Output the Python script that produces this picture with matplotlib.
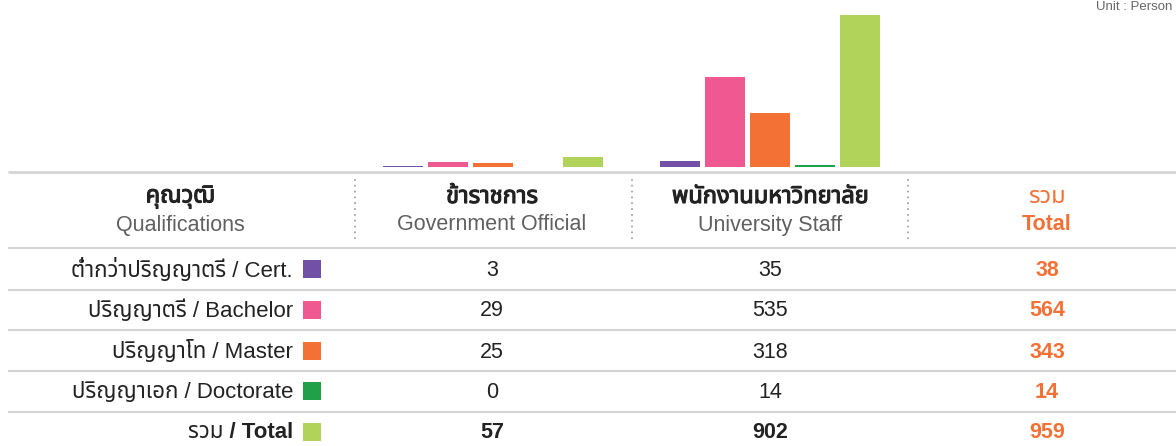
import matplotlib
matplotlib.use("Agg")
from matplotlib import pyplot as plt
from matplotlib import patheffects as pe
import numpy as np

# --- data ---
groups = ["Government Official", "University Staff"]
qualifications_th = ["ต่ำกว่าปริญญาตรี", "ปริญญาตรี", "ปริญญาโท", "ปริญญาเอก", "รวม"]
qualifications_en = ["Cert.", "Bachelor", "Master", "Doctorate", "Total"]
government = [3, 29, 25, 0, 57]
university = [35, 535, 318, 14, 902]
total = [38, 564, 343, 14, 959]
colors = ["#7150a5", "#ef5891", "#f37135", "#1fa049", "#b2d35a"]

header_th = ["คุณวุฒิ", "ข้าราชการ", "พนักงานมหาวิทยาลัย", "รวม"]
header_en = ["Qualifications", "Government Official", "University Staff", "Total"]

W, H = 1176, 446
ORANGE = "#f37135"
DARK = "#222222"
# Latin glyphs from Liberation Sans, Thai glyphs fall through to a Thai font
plt.rcParams["font.family"] = ["Liberation Sans", "Noto Sans Thai", "Noto Sans Thai Looped",
                               "Loma", "Garuda", "DejaVu Sans"]

fig = plt.figure(figsize=(W / 100, H / 100), dpi=100)

# --- bar chart above the table ---
col_edges = [355, 632, 908]
ax = fig.add_axes([col_edges[0] / W, 1 - 167 / H, (col_edges[2] - col_edges[0]) / W, 167 / H])
step = 45 / 276.5
width = 40 / 276.5
for i, c in enumerate(colors):
    vals = [government[i], university[i]]
    ax.bar(np.arange(len(groups)) + (i - 2) * step, vals, width=width, color=c)
ax.set_xlim(-0.5, 1.5)
ax.set_ylim(0, 902 * 167 / 152)
ax.axis("off")

# --- table below, in pixel coordinates of the figure ---
tb = fig.add_axes([0, 0, 1, 1])
tb.set_xlim(0, W)
tb.set_ylim(H, 0)
tb.axis("off")
tb.set_zorder(-1)

line_c = "#d4d4d4"
tb.hlines(172, 8, W, color=line_c, lw=2)
for y in [248, 290, 330, 371, 412]:
    tb.hlines(y, 8, W, color=line_c, lw=1.5)
for x in col_edges:
    tb.vlines(x, 179, 242, color="#9a9a9a", lw=1.2, linestyles=(0, (1, 2.5)))

fake_bold = lambda c, w=0.8: [pe.withStroke(linewidth=w, foreground=c)]

col_x = [180, 492, 770, 1047]
for j in range(4):
    top_c = ORANGE if j == 3 else DARK
    bot_c = ORANGE if j == 3 else "#606060"
    tb.text(col_x[j], 197, header_th[j], ha="center", va="center", fontsize=17,
            color=top_c, path_effects=fake_bold(top_c) if j < 3 else None)
    tb.text(col_x[j], 225, header_en[j], ha="center", va="center", fontsize=15.5,
            color=bot_c, fontweight="bold" if j == 3 else "normal")

row_y = [269, 310, 351, 391, 432]
for i in range(5):
    last = i == 4
    weight = "bold" if last else "normal"
    y = row_y[i] + 1
    label = f"{qualifications_th[i]} / {qualifications_en[i]}"
    tb.text(293, y, label, ha="right", va="center", fontsize=16,
            color=DARK, fontweight=weight)
    tb.scatter([311.5], [row_y[i]], marker="s", s=150, color=colors[i], linewidths=0)
    tb.text(col_x[1], y, str(government[i]), ha="center", va="center",
            fontsize=15.5, color=DARK, fontweight=weight)
    tb.text(col_x[2], y, str(university[i]), ha="center", va="center",
            fontsize=15.5, color=DARK, fontweight=weight)
    tb.text(col_x[3], y, str(total[i]), ha="center", va="center",
            fontsize=15.5, color=ORANGE, fontweight="bold")

tb.text(1172, 1, "Unit : Person", ha="right", va="top", fontsize=9.5, color="#666666")

fig.savefig("out.png", dpi=100)
